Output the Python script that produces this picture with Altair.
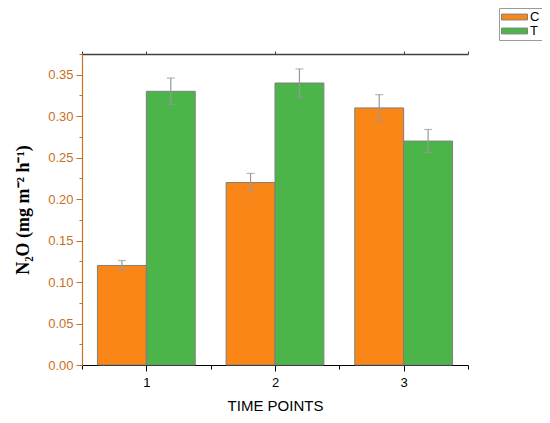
import altair as alt
import pandas as pd

time_points = [1, 2, 3]
groups = ["C", "T"]
c_values = [0.12, 0.22, 0.31]
t_values = [0.33, 0.34, 0.27]
c_errors = [0.006, 0.011, 0.016]
t_errors = [0.016, 0.017, 0.014]
y_ticks = [0.0, 0.05, 0.10, 0.15, 0.20, 0.25, 0.30, 0.35]
y_minor = [0.025, 0.075, 0.125, 0.175, 0.225, 0.275, 0.325, 0.375]
x_minor = [0.5, 1.5, 2.5, 3.5]

BAR_W = 0.38
rows = []
for i, t in enumerate(time_points):
    rows.append({"time": t, "group": "C", "value": c_values[i], "err": c_errors[i],
                 "x0": t - BAR_W, "x1": t, "xm": t - BAR_W / 2})
    rows.append({"time": t, "group": "T", "value": t_values[i], "err": t_errors[i],
                 "x0": t, "x1": t + BAR_W, "xm": t + BAR_W / 2})
df = pd.DataFrame(rows)
df["lo"] = df["value"] - df["err"]
df["hi"] = df["value"] + df["err"]
df["zero"] = 0.0

AX = "#C8701E"
xscale = alt.Scale(domain=[0.5, 3.5], nice=False, zero=False)
yscale = alt.Scale(domain=[0, 0.375], nice=False)

base = alt.Chart(df)

bars = base.mark_rect(stroke="#7f7f7f", strokeWidth=1).encode(
    x=alt.X("x0:Q", scale=xscale,
            axis=alt.Axis(orient="bottom", values=time_points, format="d", title="TIME POINTS",
                          domainColor="#000000", tickColor="#000000", tickSize=6,
                          labelColor="#000000", labelFont="Liberation Sans",
                          labelFontSize=13, labelPadding=5,
                          titleFont="Liberation Sans", titleFontSize=15,
                          titleFontWeight="normal", titleColor="#000000",
                          titlePadding=9, grid=False)),
    x2="x1:Q",
    y=alt.Y("value:Q", scale=yscale,
            axis=alt.Axis(orient="left", values=y_ticks, format=".2f",
                          title="N₂O (mg m⁻² h⁻¹)",
                          domainColor=AX, tickColor=AX, tickSize=6,
                          labelColor=AX, labelFont="Liberation Sans",
                          labelFontSize=13, labelPadding=3,
                          titleFont="Liberation Serif", titleFontSize=18,
                          titleFontWeight="bold", titleColor="#000000",
                          titlePadding=15, grid=False)),
    y2="zero:Q",
    color=alt.Color("group:N",
                    scale=alt.Scale(domain=groups, range=["#FB8618", "#4BB549"]),
                    legend=alt.Legend(title=None, orient="none", legendX=417, legendY=-46,
                                      symbolType="M-1,-0.45L3,-0.45L3,0.45L-1,0.45Z",
                                      symbolSize=169, symbolStrokeColor="#7f7f7f",
                                      symbolStrokeWidth=1, labelFont="Liberation Sans",
                                      labelFontSize=13, labelColor="#000000",
                                      rowPadding=0, labelOffset=15,
                                      strokeColor="#9a9a9a", padding=2,
                                      fillColor="#ffffff")),
)

errs = base.mark_errorbar(ticks=alt.TickConfig(size=8, color="#999999"), color="#999999",
                          thickness=1.2).encode(
    x=alt.X("xm:Q", scale=xscale, axis=None),
    y=alt.Y("lo:Q", scale=yscale, axis=None),
    y2="hi:Q",
)

minor_axes = base.mark_point(opacity=0).encode(
    x=alt.X("xm:Q", scale=xscale,
            axis=alt.Axis(orient="bottom", values=x_minor, labels=False, title=None,
                          domain=False, tickColor="#000000", tickSize=4, grid=False)),
    y=alt.Y("value:Q", scale=yscale,
            axis=alt.Axis(orient="left", values=y_minor, labels=False, title=None,
                          domain=False, tickColor=AX, tickSize=3, grid=False)),
)

top_axis = base.mark_point(opacity=0).encode(
    x=alt.X("xm:Q", scale=xscale,
            axis=alt.Axis(orient="top", values=[0.5] + time_points + [3.5], labels=False,
                          title=None, domainColor="#404040", domainWidth=1.5,
                          tickColor="#404040", tickSize=3, grid=False)),
    y=alt.Y("value:Q", scale=yscale, axis=None),
)

chart = alt.layer(bars, errs, minor_axes, top_axis).resolve_axis(
    x="independent", y="independent"
).properties(
    width=386, height=311,
    autosize=alt.AutoSizeParams(type="none"),
    padding={"left": 74, "top": 46, "right": 74, "bottom": 50},
).configure_view(stroke=None).configure_axis(domainWidth=1.2)

chart.save("out.html", embed_options={"renderer": "svg", "actions": False})
